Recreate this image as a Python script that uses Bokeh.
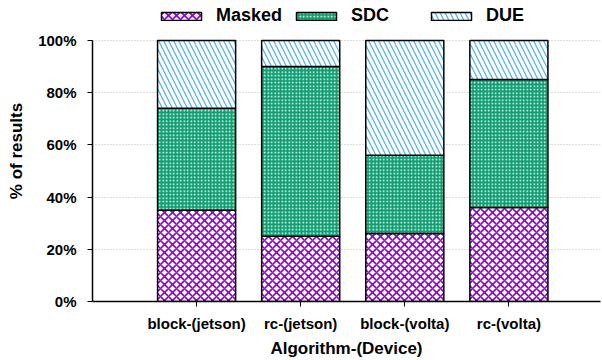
from bokeh.plotting import figure
from bokeh.models import (ColumnDataSource, FixedTicker, Range1d, Legend, LegendItem)
from bokeh.embed import file_html
from bokeh.resources import INLINE

# Outcome shares (percent) per algorithm/device combination
categories = ["block-(jetson)", "rc-(jetson)", "block-(volta)", "rc-(volta)"]
masked = [35, 25, 26, 36]
sdc = [39, 65, 30, 49]
due = [26, 10, 44, 15]
y_ticks = [0, 20, 40, 60, 80, 100]
y_tick_labels = ["0%", "20%", "40%", "60%", "80%", "100%"]

xs = list(range(1, len(categories) + 1))
sdc_top = [m + s for m, s in zip(masked, sdc)]
due_top = [t + d for t, d in zip(sdc_top, due)]

src = ColumnDataSource(dict(x=xs, masked=masked, sdc_top=sdc_top, due_top=due_top))

FONT = "Liberation Sans"

# the frame reaches the top edge; the space above 100% holds the legend
p = figure(width=602, height=360, output_backend="svg", toolbar_location=None,
           x_range=Range1d(0, 4.88), y_range=Range1d(0, 115.3),
           min_border_left=92, min_border_right=2, min_border_top=0, min_border_bottom=58)
p.outline_line_color = None

bar_w = 0.75
r_masked = p.vbar(x="x", bottom=0, top="masked", width=bar_w, source=src,
                  fill_color="white", line_color="black", line_width=1.5,
                  hatch_pattern="diagonal_cross", hatch_color="#9400D3",
                  hatch_scale=8, hatch_weight=1.6)
r_sdc = p.vbar(x="x", bottom="masked", top="sdc_top", width=bar_w, source=src,
               fill_color="#0E9E72", line_color="black", line_width=1.5,
               hatch_pattern="dot", hatch_color="white",
               hatch_scale=3.5, hatch_weight=2)
r_due = p.vbar(x="x", bottom="sdc_top", top="due_top", width=bar_w, source=src,
               fill_color="white", line_color="black", line_width=1.5,
               hatch_pattern="left_diagonal_line", hatch_color="#56B4E9",
               hatch_scale=10, hatch_weight=1.3)

# axes
p.xaxis.ticker = FixedTicker(ticks=xs)
p.xaxis.major_label_overrides = {x: c for x, c in zip(xs, categories)}
p.yaxis.ticker = FixedTicker(ticks=y_ticks)
p.yaxis.major_label_overrides = {t: l for t, l in zip(y_ticks, y_tick_labels)}
p.yaxis.bounds = (0, 100)
p.xaxis.axis_label = "Algorithm-(Device)"
p.yaxis.axis_label = "% of results"
for ax in (p.xaxis, p.yaxis):
    ax.axis_label_text_font = FONT
    ax.axis_label_text_font_style = "bold"
    ax.axis_label_text_font_size = "17px"
    ax.major_label_text_font = FONT
    ax.major_label_text_font_style = "bold"
    ax.major_label_text_font_size = "15px"
    ax.major_label_text_color = "black"
    ax.axis_label_text_color = "black"
    ax.axis_line_color = "black"
    ax.axis_line_width = 1.5
    ax.major_tick_line_color = "black"
    ax.major_tick_line_width = 1
    ax.minor_tick_line_color = None
    ax.major_tick_in = 0
    ax.major_tick_out = 5
p.yaxis.major_label_standoff = 11
p.xaxis.major_label_standoff = 8
p.yaxis.axis_label_standoff = 9
p.xaxis.axis_label_standoff = 4

p.xgrid.grid_line_color = None
p.ygrid.ticker = FixedTicker(ticks=y_ticks[1:])
p.ygrid.grid_line_color = "#bbbbbb"
p.ygrid.grid_line_dash = "1 2"
p.ygrid.grid_line_width = 1

legend = Legend(items=[LegendItem(label="Masked", renderers=[r_masked]),
                       LegendItem(label="SDC", renderers=[r_sdc]),
                       LegendItem(label="DUE", renderers=[r_due])],
                orientation="horizontal", location=(64, 275),
                glyph_width=50, glyph_height=10, label_width=75,
                label_standoff=10, spacing=0, padding=4, margin=0,
                label_text_font=FONT, label_text_font_style="bold",
                label_text_font_size="18px", label_text_color="black",
                border_line_color=None, background_fill_alpha=0)
p.add_layout(legend, "center")

open("out.html", "w").write(file_html(p, INLINE))
